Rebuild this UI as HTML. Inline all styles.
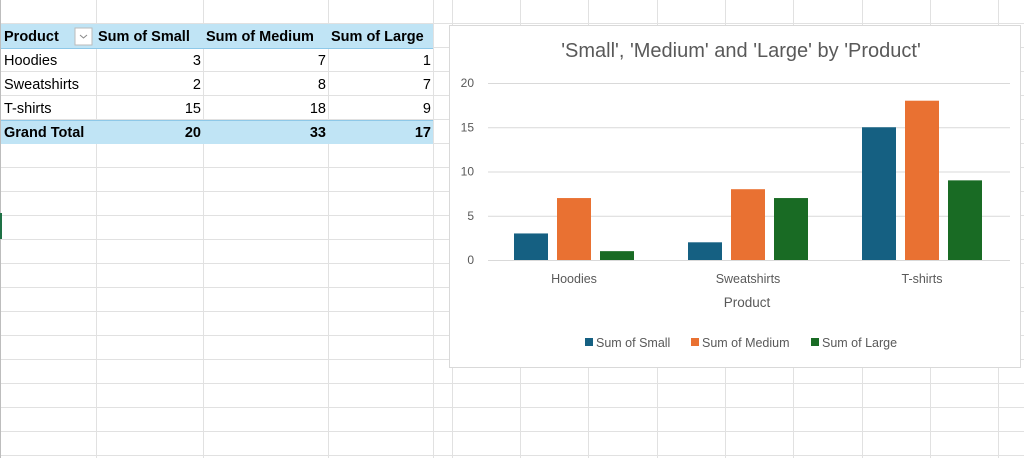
<!DOCTYPE html>
<html><head><meta charset="utf-8"><style>
body{margin:0;width:1024px;height:458px;overflow:hidden;background:#fff;font-family:"Liberation Sans",sans-serif;position:relative}
.abs{position:absolute}
.cell{position:absolute;font-size:14.5px;color:#000;line-height:24px;white-space:nowrap}
</style></head><body>
<svg class="abs" style="left:0;top:0" width="1024" height="458">
<g id="grid" stroke="#e1e1e1" stroke-width="1"></g>
<rect x="0" y="24" width="433" height="24" fill="#c0e4f5"/>
<rect x="0" y="120" width="433" height="24" fill="#c0e4f5"/>
<line x1="0" y1="48.5" x2="433" y2="48.5" stroke="#8ec8e8"/>
<line x1="0" y1="120.5" x2="433" y2="120.5" stroke="#8ec8e8"/>
<line x1="0.5" y1="0" x2="0.5" y2="458" stroke="#bdbdbd"/>
<rect x="0" y="213" width="2" height="26" fill="#1e7145"/>
<rect x="75" y="28" width="17" height="17" fill="#fff" stroke="#bbb"/>
<path d="M80 35 l3.5 3 l3.5 -3" fill="none" stroke="#888"/>
</svg>
<div class="cell" style="left:4px;top:25px;font-weight:bold">Product</div>
<div class="cell" style="left:98px;top:25px;font-weight:bold">Sum of Small</div>
<div class="cell" style="left:206px;top:25px;font-weight:bold">Sum of Medium</div>
<div class="cell" style="left:331px;top:25px;font-weight:bold">Sum of Large</div>
<div id="rows"></div>
<div class="abs" style="left:449px;top:25px;width:572px;height:343px;background:#fff;border:1px solid #d9d9d9;box-sizing:border-box"></div>
<svg class="abs" id="chart" style="left:0;top:0" width="1024" height="458"></svg>
<script>
const categories=["Hoodies","Sweatshirts","T-shirts"];
const smallVals=[3,2,15];
const mediumVals=[7,8,18];
const largeVals=[1,7,9];
const seriesNames=["Sum of Small","Sum of Medium","Sum of Large"];
const colors=["#156082","#e97132","#196b24"];
const yTicks=[0,5,10,15,20];
const NS="http://www.w3.org/2000/svg";
const g=document.getElementById('grid');
for(let y=23;y<458;y+=24){const l=document.createElementNS(NS,'line');l.setAttribute('x1',0);l.setAttribute('x2',1024);l.setAttribute('y1',y+.5);l.setAttribute('y2',y+.5);g.appendChild(l);}
[96,203,328,433,452,520,588,657,725,793,862,930,998].forEach(x=>{const l=document.createElementNS(NS,'line');l.setAttribute('x1',x+.5);l.setAttribute('x2',x+.5);l.setAttribute('y1',0);l.setAttribute('y2',458);g.appendChild(l);});
const rows=document.getElementById('rows');
const cols=[[4,'left'],[201,'right'],[326,'right'],[431,'right']];
function addRow(vals,top,bold,name){vals.forEach((v,i)=>{const d=document.createElement('div');d.className='cell';d.textContent=v;
 if(i==0)d.style.left='4px';else{d.style.right=(1024-cols[i][0])+'px';}
 d.style.top=top+'px';if(bold)d.style.fontWeight='bold';
 
 
 rows.appendChild(d);});}
categories.forEach((c,i)=>addRow([c,smallVals[i],mediumVals[i],largeVals[i]],48+24*i+1,false,'row-'+c.toLowerCase()));
const sum=a=>a.reduce((s,v)=>s+v,0);
addRow(["Grand Total",sum(smallVals),sum(mediumVals),sum(largeVals)],121,true,'grand-total');
const svg=document.getElementById('chart');
const y0=260,yTop=83,yMax=20;
const yS=v=>y0-(v/yMax)*(y0-yTop);
const catW=174,catStart=487;
const xC=i=>catStart+catW*(i+0.5);
function el(t,a,txt){const e=document.createElementNS(NS,t);for(const k in a)e.setAttribute(k,a[k]);if(txt!=null)e.textContent=txt;svg.appendChild(e);return e;}
let t=el('text',{x:741,y:57,'text-anchor':'middle','font-size':'20','fill':'#595959','font-family':'Liberation Sans, sans-serif'},"'Small', 'Medium' and 'Large' by 'Product'");


yTicks.forEach(v=>{const l=el('line',{x1:488,x2:1010,y1:yS(v)+.5,y2:yS(v)+.5,stroke:'#d9d9d9'});


const tx=el('text',{x:474,y:yS(v)+4,'text-anchor':'end','font-size':'12','fill':'#595959'},v);

});
const series=[smallVals,mediumVals,largeVals];
const bw=34,step=43;
categories.forEach((c,i)=>{series.forEach((s,j)=>{const bx=xC(i)+(j-1)*step-bw/2;
 const r=el('rect',{x:bx,y:yS(s[i]),width:bw,height:y0-yS(s[i]),fill:colors[j]});
 
 });
 const lab=el('text',{x:xC(i),y:283,'text-anchor':'middle','font-size':'12.5','fill':'#595959'},c);
 
 });
t=el('text',{x:747,y:307,'text-anchor':'middle','font-size':'13.5','fill':'#595959'},'Product');


const legX=[585,691,811];
seriesNames.forEach((n,j)=>{const r=el('rect',{x:legX[j],y:338,width:8,height:8,fill:colors[j]});
 
 
 const tx=el('text',{x:legX[j]+11,y:347,'font-size':'12.5','fill':'#595959'},n);
 
 });
</script>
</body></html>
